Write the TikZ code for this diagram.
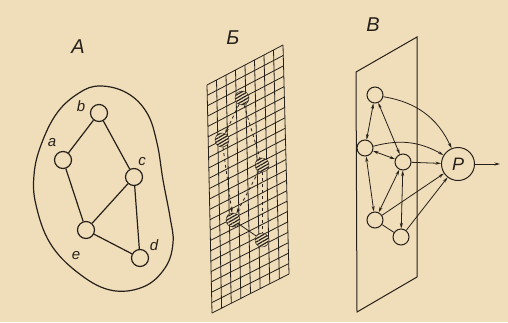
\documentclass[tikz,border=0pt]{standalone}
\usepackage{fontspec}
\setmainfont{Liberation Sans}
\usepackage{tikz}
\usetikzlibrary{
arrows.meta,
positioning,
calc,
patterns.meta
}
\definecolor{paper}{RGB}{240,222,186}
\definecolor{ink}{RGB}{38,32,26}

\begin{document}
\begin{tikzpicture}[
  x=1pt, y=-1pt,
  >={Stealth[length=5.5pt,width=3pt]},
  every node/.style={font=\itshape\fontsize{15}{18}\selectfont, text=ink},
  vert/.style={draw=ink, line width=1.2pt, circle, minimum size=17pt, inner sep=0pt},
  hatch/.style={circle, minimum size=14pt, inner sep=0pt, draw=ink, thin,
    preaction={fill=paper},
    pattern={Lines[angle=30, distance=2.8pt, line width=1.2pt]}, pattern color=ink},
  cell/.style={draw=ink, line width=0.8pt},
  unit/.style={draw=ink, line width=1pt, circle, minimum size=16pt, inner sep=0pt},
  panel/.style={font=\itshape\fontsize{20}{24}\selectfont}
]

%% Paper
\fill[paper] (0,0) rectangle (508,322);
\useasboundingbox (0,0) rectangle (508,322);

%% ── PANEL A: graph inside a region ─────────────────────────
\node[panel] (labA) at (78,47) {А};

\draw[ink, line width=1.2pt] plot[smooth cycle, tension=0.65] coordinates {
  (100,86) (127,93) (147,113) (157,143) (163,180) (170,217) (173,243)
  (165,268) (143,287) (110,290) (77,272) (50,243) (36,205) (34,175)
  (41,145) (57,113) (79,93)};

\node[vert] (b) at (99,113) {};
\node[vert] (a) at (63,160) {};
\node[vert] (c) at (134,177) {};
\node[vert] (e) at (86,230) {};
\node[vert] (d) at (140,258) {};

\node (lb) at (81,106) {b};
\node (la) at (52,143) {a};
\node (lc) at (142,162) {c};
\node (le) at (76,256) {e};
\node (ld) at (154,245) {d};

\draw[ink, line width=1.2pt] (b) -- (a);
\draw[ink, line width=1.2pt] (b) -- (c);
\draw[ink, line width=1.2pt] (a) -- (e);
\draw[ink, line width=1.2pt] (c) -- (e);
\draw[ink, line width=1.2pt] (c) -- (d);
\draw[ink, line width=1.2pt] (e) -- (d);

%% ── PANEL B: the same graph on a grid ──────────────────────
\node[panel] (labB) at (233,38) {Б};

\coordinate (gTL) at (207,85);
\coordinate (gTR) at (283,45);
\coordinate (gBL) at (212,313);
\coordinate (gBR) at (289,274);

\foreach \i in {0,...,8}
  \draw[cell] ($(gTL)!\i/8!(gTR)$) -- ($(gBL)!\i/8!(gBR)$);
\foreach \j in {0,...,22}
  \draw[cell] ($(gTL)!\j/22!(gBL)$) -- ($(gTR)!\j/22!(gBR)$);

\node[hatch] (hb) at (242,98) {};
\node[hatch] (ha) at (222,140) {};
\node[hatch] (hc) at (262,165) {};
\node[hatch] (he) at (233,220) {};
\node[hatch] (hd) at (262,240) {};

\draw[ink, thick, dashed, ->] (hb) -- (ha);
\draw[ink, thick, dashed] (hb) -- (hc);
\draw[ink, thick, dashed, ->] (ha) -- (he);
\draw[ink, thick, dashed, ->] (hc) -- (he);
\draw[ink, thick, dashed] (hc) -- (hd);
\draw[ink, thick] (he) -- (hd);

%% ── PANEL C: units on a plane feeding P ────────────────────
\node[panel] (labC) at (373,25) {В};

\draw[ink, line width=1pt] (356,72) -- (417,37) -- (417,277) -- (357,312) -- cycle;

\node[unit] (n1) at (375,95) {};
\node[unit] (n2) at (365,148) {};
\node[unit] (n3) at (403,162) {};
\node[unit] (n4) at (375,220) {};
\node[unit] (n5) at (401,237) {};
\node[unit, minimum size=33pt, font=\itshape\fontsize{18}{20}\selectfont] (P) at (458,164) {P};
\coordinate (out) at (500,164);

\draw[ink, line width=0.8pt, <->] (n1) -- (n2);
\draw[ink, line width=0.8pt, <->] (n1) -- (n3);
\draw[ink, line width=0.8pt, <->] (n2) -- (n3);
\draw[ink, line width=0.8pt, <->] (n2) -- (n4);
\draw[ink, line width=0.8pt, <->] (n3) -- (n4);
\draw[ink, line width=0.8pt, <->] (n3) -- (n5);
\draw[ink, line width=0.8pt] (n4) -- (n5);

\draw[ink, line width=0.8pt, ->] (n1) to[bend left=28] (P);
\draw[ink, line width=0.8pt, ->] (n2) to[bend left=22] (P);
\draw[ink, line width=0.8pt, ->] (n3) -- (P);
\draw[ink, line width=0.8pt, ->] (n4) -- (P);
\draw[ink, line width=0.8pt, ->] (n5) -- (P);
\draw[ink, line width=1pt, ->] (P) -- (out);

\end{tikzpicture}
\end{document}
